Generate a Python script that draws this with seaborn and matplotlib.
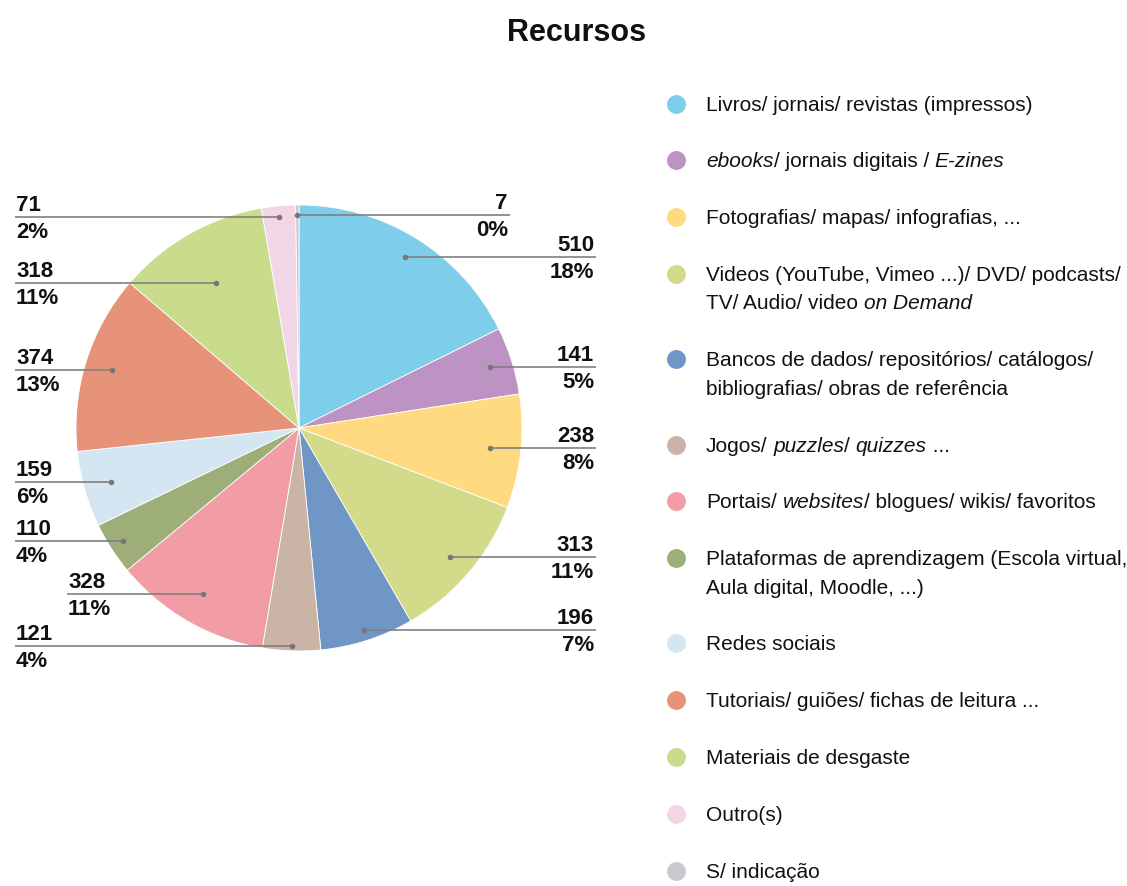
import numpy as np
import matplotlib
matplotlib.use("Agg")
import matplotlib.pyplot as plt
import seaborn as sns

# ---------------- data ----------------
categories = [
    "Livros/ jornais/ revistas (impressos)",
    "ebooks/ jornais digitais / E-zines",
    "Fotografias/ mapas/ infografias, ...",
    "Videos (YouTube, Vimeo ...)/ DVD/ podcasts/ TV/ Audio/ video on Demand",
    "Bancos de dados/ repositórios/ catálogos/ bibliografias/ obras de referência",
    "Jogos/ puzzles/ quizzes ...",
    "Portais/ websites/ blogues/ wikis/ favoritos",
    "Plataformas de aprendizagem (Escola virtual, Aula digital, Moodle, ...)",
    "Redes sociais",
    "Tutoriais/ guiões/ fichas de leitura ...",
    "Materiais de desgaste",
    "Outro(s)",
    "S/ indicação",
]
values = [510, 141, 238, 313, 196, 121, 328, 110, 159, 374, 318, 71, 7]
# legend display (rich text: (text, italic?) per line)
legend_lines = [
    [[("Livros/ jornais/ revistas (impressos)", False)]],
    [[("ebooks", True), ("/ jornais digitais /", False), (" ", None), ("E-zines", True)]],
    [[("Fotografias/ mapas/ infografias, ...", False)]],
    [[("Videos (YouTube, Vimeo ...)/ DVD/ podcasts/", False)],
     [("TV/ Audio/ video", False), (" ", None), ("on Demand", True)]],
    [[("Bancos de dados/ repositórios/ catálogos/", False)],
     [("bibliografias/ obras de referência", False)]],
    [[("Jogos/", False), (" ", None), ("puzzles", True), ("/", False), (" ", None),
      ("quizzes", True), (" ...", False)]],
    [[("Portais/", False), (" ", None), ("websites", True), ("/ blogues/ wikis/ favoritos", False)]],
    [[("Plataformas de aprendizagem (Escola virtual,", False)],
     [("Aula digital, Moodle, ...)", False)]],
    [[("Redes sociais", False)]],
    [[("Tutoriais/ guiões/ fichas de leitura ...", False)]],
    [[("Materiais de desgaste", False)]],
    [[("Outro(s)", False)]],
    [[("S/ indicação", False)]],
]
colors_hex = ["#7ECDEB", "#BC93C3", "#FFDA80", "#D3DB8A", "#7096C6", "#C9B4A6",
              "#F29CA6", "#9DAE78", "#D3E6F1", "#E6937A", "#C9DC8B", "#F3D6E6",
              "#C8C8D0"]

# ---------------- layout/style ----------------
W, H = 1127, 886
CX, CY, R = 299, 428, 223
# per-label: dot radial fraction, side, line outer x
label_layout = [
    (0.90, "R", 596), (0.90, "R", 596), (0.86, "R", 596), (0.89, "R", 596),
    (0.95, "R", 596), (0.98, "L", 15), (0.86, "L", 67), (0.94, "L", 15),
    (0.875, "L", 15), (0.88, "L", 15), (0.75, "L", 15), (0.95, "L", 15),
    (0.955, "R", 510),
]

sns.set_theme(style="white")
palette = sns.color_palette(colors_hex)
plt.rcParams["font.family"] = ["Liberation Sans", "DejaVu Sans"]

fig = plt.figure(figsize=(W / 100, H / 100), dpi=100)
ax = fig.add_axes([0, 0, 1, 1])


def Y(y):
    return H - y


ax.pie(values, colors=palette, startangle=90, counterclock=False,
       center=(CX, Y(CY)), radius=R,
       wedgeprops=dict(edgecolor="white", linewidth=0.6))
ax.set_xlim(0, W)
ax.set_ylim(0, H)
ax.axis("off")

total = float(sum(values))
cum = np.cumsum([0] + values[:-1])
lab_font = dict(family=["Liberation Sans", "DejaVu Sans"],
                fontweight="bold", fontsize=16, color="#111111")
for i, v in enumerate(values):
    frac, side, xo = label_layout[i]
    mid = (cum[i] + v / 2.0) / total * 2 * np.pi
    dx = CX + R * frac * np.sin(mid)
    dy = CY - R * frac * np.cos(mid)
    pct = "%d%%" % int(round(v / total * 100))
    ax.plot([dx, xo], [Y(dy), Y(dy)], color="#808080", lw=1.2,
            solid_capstyle="butt", zorder=3)
    ax.plot([dx], [Y(dy)], "o", color="#777777", ms=4, mec="none", zorder=4)
    if side == "R":
        tx, ha = xo - 2, "right"
    else:
        tx, ha = xo + 1, "left"
    ax.text(tx, Y(dy - 6), str(v), ha=ha, va="baseline", **lab_font)
    ax.text(tx, Y(dy + 21), pct, ha=ha, va="baseline", **lab_font)

# title
ax.text(577, Y(33), "Recursos", ha="center", va="center",
        fontsize=22, fontweight="bold", color="#111111",
        family=["Liberation Sans", "DejaVu Sans"])

# legend
renderer = fig.canvas.get_renderer()
leg_fs = 15
leg_fam = ["Liberation Sans", "DejaVu Sans"]


def text_width(s):
    t = ax.text(0, 0, s, fontsize=leg_fs, family=leg_fam)
    w = t.get_window_extent(renderer).width
    t.remove()
    return w


space_w = text_width("a a") - text_width("aa")

row_y = 103.5
STEP, EXTRA = 56.8, 28.5
for i, lines in enumerate(legend_lines):
    ax.plot([676], [Y(row_y)], "o", ms=13.6, color=palette[i], mec="none")
    for li, segs in enumerate(lines):
        x = 706
        ybase = row_y + 7 + li * EXTRA
        for s, it in segs:
            if it is None:
                x += space_w * len(s)
                continue
            t = ax.text(x, Y(ybase), s, ha="left", va="baseline",
                        fontsize=leg_fs, family=leg_fam,
                        style="italic" if it else "normal", color="#111111")
            x = t.get_window_extent(renderer).x1
    row_y += STEP + EXTRA * (len(lines) - 1)

fig.savefig("out.png", dpi=100)
